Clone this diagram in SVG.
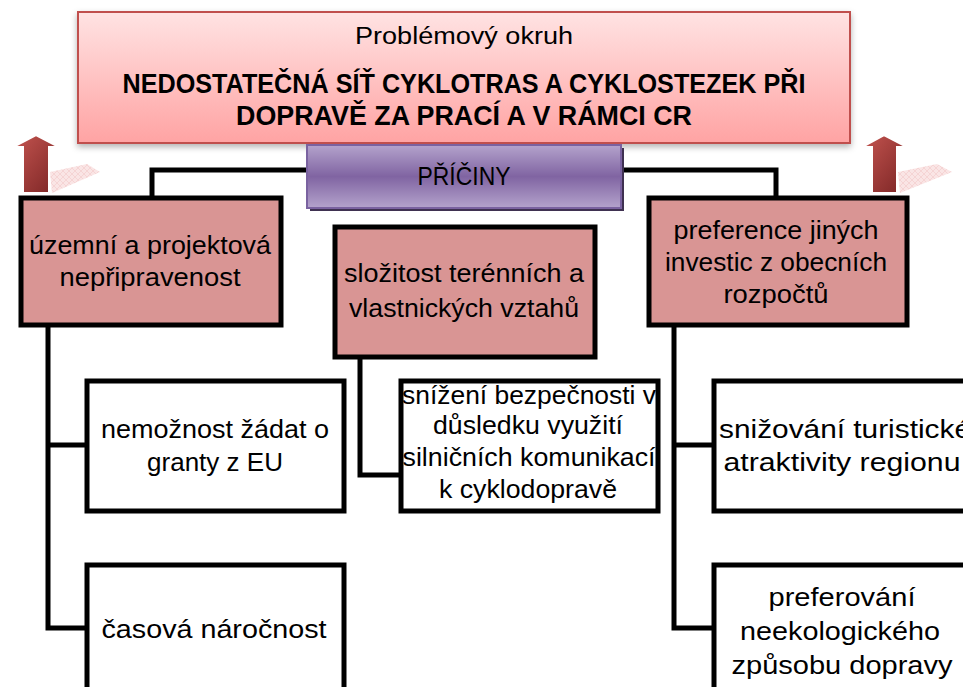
<svg xmlns="http://www.w3.org/2000/svg" width="963" height="687" viewBox="0 0 963 687">
<defs>
<linearGradient id="gTop" x1="0" y1="0" x2="0" y2="1">
<stop offset="0" stop-color="#FFE3E3"/>
<stop offset="1" stop-color="#FFA3A3"/>
</linearGradient>
<linearGradient id="gPur" x1="0" y1="0" x2="0" y2="1">
<stop offset="0" stop-color="#B4A3CC"/>
<stop offset="0.5" stop-color="#8064A2"/>
<stop offset="1" stop-color="#B4A3CC"/>
</linearGradient>
<linearGradient id="gArr" x1="0" y1="0" x2="1" y2="1">
<stop offset="0" stop-color="#C55550"/>
<stop offset="1" stop-color="#7A2424"/>
</linearGradient>
<pattern id="hatch" width="6" height="6" patternUnits="userSpaceOnUse">
<rect width="6" height="6" fill="#F8DCDC"/>
<path d="M0 0L6 6M6 0L0 6" stroke="#EDB5B5" stroke-width="0.6"/>
</pattern>
<filter id="sh" x="-5%" y="-10%" width="110%" height="130%">
<feDropShadow dx="0" dy="3" stdDeviation="3" flood-color="#000" flood-opacity="0.3"/>
</filter>
</defs>
<style>
.t{font-family:"Liberation Sans",Arial,sans-serif;fill:#000;text-anchor:middle}
.b{font-size:26px}
.box{stroke:#000;stroke-width:5}
.cause{fill:#D99594}
.eff{fill:#fff}
.ln{fill:none;stroke:#000;stroke-width:5}
.arr{fill:url(#gArr);stroke:#fff;stroke-width:2}
.shd{fill:url(#hatch);opacity:0.75}
</style>

<g id="arrows">
<polygon class="shd" points="50,172 87,164 100,172 52,193"/>
<polygon class="arr" points="23,193 23,147 13,147 36,135 59,147 49,147 49,193"/>
<polygon class="shd" points="898,172 937,164 952,172 900,193"/>
<polygon class="arr" points="872,193 872,147 862,147 884,135 907,147 897,147 897,193"/>
</g>

<g id="connectors">
<line x1="464" y1="142" x2="464" y2="146" stroke="#000" stroke-width="3"/>
<polyline class="ln" points="307,170 152,170 152,197"/>
<polyline class="ln" points="621,170 776,170 776,197"/>
<polyline class="ln" points="48,325 48,628 85,628"/>
<line class="ln" x1="48" y1="445" x2="85" y2="445"/>
<polyline class="ln" points="360,357 360,475 399,475"/>
<polyline class="ln" points="674,325 674,628 712,628"/>
<line class="ln" x1="674" y1="445" x2="712" y2="445"/>
</g>

<g id="problem">
<rect x="78" y="12" width="772" height="131" fill="url(#gTop)" stroke="#C0504D" stroke-width="2" filter="url(#sh)"/>
<text class="t" x="464" y="44" font-size="23" textLength="218" lengthAdjust="spacingAndGlyphs">Problémový okruh</text>
<text class="t" x="464" y="93" font-size="27" font-weight="bold" textLength="683" lengthAdjust="spacingAndGlyphs">NEDOSTATEČNÁ SÍŤ CYKLOTRAS A CYKLOSTEZEK PŘI</text>
<text class="t" x="464" y="125" font-size="27" font-weight="bold" textLength="456" lengthAdjust="spacingAndGlyphs">DOPRAVĚ ZA PRACÍ A V RÁMCI CR</text>
</g>

<g id="priciny">
<rect x="310" y="148" width="314" height="63" fill="#3F3151"/>
<rect x="307" y="145" width="314" height="63" fill="url(#gPur)" stroke="#7A62A0" stroke-width="2"/>
<text class="t" x="464" y="185" font-size="25" textLength="93" lengthAdjust="spacingAndGlyphs">PŘÍČINY</text>
</g>

<g id="cause1">
<rect class="box cause" x="21" y="198" width="260" height="127"/>
<text class="t b" x="150" y="254" textLength="242" lengthAdjust="spacingAndGlyphs">územní a projektová</text>
<text class="t b" x="150" y="286" textLength="181" lengthAdjust="spacingAndGlyphs">nepřipravenost</text>
</g>

<g id="cause2">
<rect class="box cause" x="335" y="227" width="260" height="130"/>
<text class="t b" x="464" y="282" textLength="240" lengthAdjust="spacingAndGlyphs">složitost terénních a</text>
<text class="t b" x="464" y="317" textLength="230" lengthAdjust="spacingAndGlyphs">vlastnických vztahů</text>
</g>

<g id="cause3">
<rect class="box cause" x="649" y="198" width="258" height="127"/>
<text class="t b" x="776" y="239" textLength="205" lengthAdjust="spacingAndGlyphs">preference jiných</text>
<text class="t b" x="776" y="271" textLength="222" lengthAdjust="spacingAndGlyphs">investic z obecních</text>
<text class="t b" x="776" y="303" textLength="105" lengthAdjust="spacingAndGlyphs">rozpočtů</text>
</g>

<g id="eff1">
<rect class="box eff" x="87" y="381" width="257" height="130"/>
<text class="t b" x="215" y="438" textLength="228" lengthAdjust="spacingAndGlyphs">nemožnost žádat o</text>
<text class="t b" x="215" y="471" textLength="136" lengthAdjust="spacingAndGlyphs">granty z EU</text>
</g>

<g id="eff2">
<rect class="box eff" x="87" y="565" width="257" height="130"/>
<text class="t b" x="214" y="638" textLength="225" lengthAdjust="spacingAndGlyphs">časová náročnost</text>
</g>

<g id="eff3">
<rect class="box eff" x="401" y="381" width="257" height="130"/>
<text class="t b" x="529" y="404" textLength="254" lengthAdjust="spacingAndGlyphs">snížení bezpečnosti v</text>
<text class="t b" x="528" y="434" textLength="190" lengthAdjust="spacingAndGlyphs">důsledku využití</text>
<text class="t b" x="529" y="466" textLength="253" lengthAdjust="spacingAndGlyphs">silničních komunikací</text>
<text class="t b" x="528" y="498" textLength="178" lengthAdjust="spacingAndGlyphs">k cyklodopravě</text>
</g>

<g id="eff4">
<rect class="box eff" x="714" y="381" width="260" height="130"/>
<text class="t b" x="845" y="438" textLength="252" lengthAdjust="spacingAndGlyphs">snižování turistické</text>
<text class="t b" x="842" y="471" textLength="237" lengthAdjust="spacingAndGlyphs">atraktivity regionu</text>
</g>

<g id="eff5">
<rect class="box eff" x="714" y="565" width="260" height="130"/>
<text class="t b" x="842" y="606" textLength="147" lengthAdjust="spacingAndGlyphs">preferování</text>
<text class="t b" x="840" y="640" textLength="200" lengthAdjust="spacingAndGlyphs">neekologického</text>
<text class="t b" x="842" y="674" textLength="221" lengthAdjust="spacingAndGlyphs">způsobu dopravy</text>
</g>
</svg>
